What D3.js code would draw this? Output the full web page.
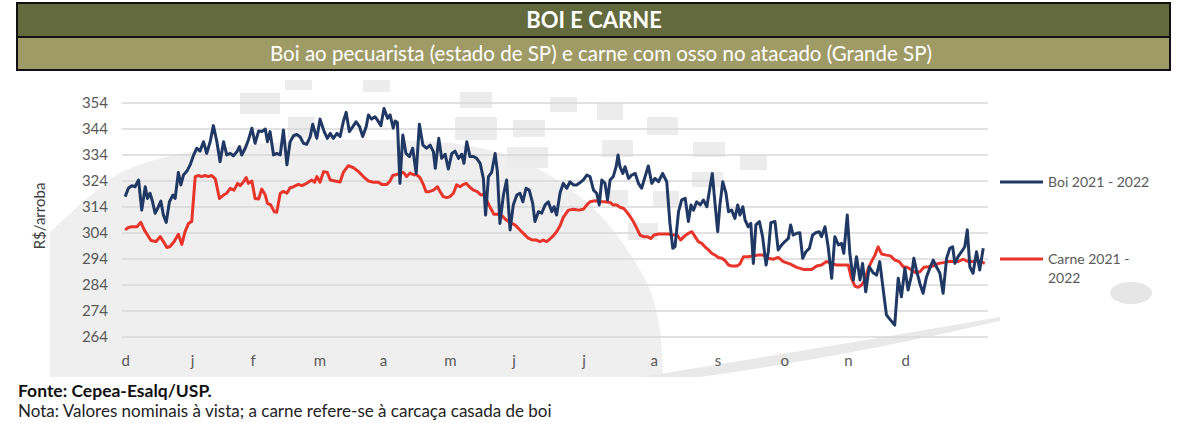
<!DOCTYPE html>
<html lang="pt-BR">
<head>
  <meta charset="UTF-8">
  <title>Boi e Carne</title>
  <script src="https://d3js.org/d3.v7.min.js" charset="utf-8"></script>
  <style>
    body { margin: 0; background: #fff; }
    svg { display: block; font-family: Lato, "Open Sans", sans-serif; }
  </style>
</head>
<body>
  <svg width="1200" height="423"></svg>
  <script>
    // meses (eixo x em dias úteis a partir de dez/2021)
    const monthLabels = ["d", "j", "f", "m", "a", "m", "j", "j", "a", "s", "o", "n", "d"]
    const monthIndex = [0, 21, 40, 61, 81, 102, 122, 144, 166, 186, 207, 227, 245]
    const yTicks = [264, 274, 284, 294, 304, 314, 324, 334, 344, 354]

    // [dia, R$/arroba]
    const boi = [[0,318.0],[1.0,321.2],[2.1,322.2],[3.1,321.8],[4.2,324.4],[5.2,312.8],[6.3,321.8],[7.0,317.3],[7.8,319.3],[8.6,316.0],[9.4,311.6],[10.2,313.5],[11.2,316.3],[12.0,310.9],[12.9,308.1],[13.9,316.0],[15.0,318.6],[15.7,317.3],[16.7,327.3],[17.5,322.5],[18.3,326.3],[19.4,327.8],[20.4,330.2],[21.5,334.0],[22.5,336.6],[23.5,335.5],[24.6,339.1],[25.6,334.6],[26.7,339.1],[27.7,345.3],[28.8,339.1],[29.8,331.4],[30.9,339.1],[31.9,334.0],[33.0,334.6],[34.0,333.7],[35.1,335.3],[35.9,337.2],[36.6,334.0],[37.7,336.6],[38.7,339.8],[39.8,344.3],[40.8,338.5],[41.9,343.2],[42.9,343.0],[44.0,344.0],[44.7,339.1],[45.5,343.0],[46.6,334.0],[47.6,334.6],[48.7,334.0],[49.7,343.6],[50.8,330.2],[51.8,339.1],[52.9,341.4],[53.9,341.9],[54.9,341.0],[56.0,338.5],[57.0,338.1],[58.1,341.0],[58.9,345.8],[60.2,340.4],[61.2,347.8],[62.5,343.0],[63.5,340.4],[64.4,342.3],[65.4,340.4],[66.5,342.3],
      [67.5,341.1],[68.5,346.8],[69.4,350.4],[70.4,343.0],[71.5,344.9],[72.5,346.8],[73.6,344.9],[74.6,341.1],[75.7,344.9],[76.4,349.4],[77.4,347.8],[78.5,348.7],[79.2,347.5],[80.3,345.3],[81.3,351.9],[82.4,348.1],[83.2,349.4],[84.2,344.3],[84.8,347.1],[85.5,346.5],[86.3,323.1],[87.2,341.7],[88.2,334.6],[89.3,333.4],[90.3,336.6],[91.4,326.9],[92.4,345.8],[93.5,337.8],[94.7,336.6],[95.8,337.8],[96.8,335.3],[97.4,328.9],[98.5,340.4],[99.4,332.7],[100.5,334.3],[101.5,328.6],[102.6,334.6],[103.6,335.5],[104.7,332.7],[105.7,334.3],[106.4,330.8],[107.3,339.1],[108.3,333.4],[109.4,333.4],[110.4,332.7],[111.5,330.8],[112.5,325.0],[113.2,310.9],[114.1,325.7],[115.1,327.3],[116.2,334.6],[116.9,327.6],[117.7,307.7],[118.8,318.6],[119.8,324.4],[120.9,305.2],[121.9,314.8],[123.0,318.6],[124.0,319.3],[124.9,316.0],[125.9,321.2],[126.9,320.5],[128.0,315.4],[128.7,308.4],[129.8,312.2],[130.8,311.6],[131.9,314.8],[132.9,316.0],[134.0,312.2],[134.7,314.1],[135.5,310.9],
      [136.6,319.5],[137.6,323.1],[138.7,321.2],[139.7,323.7],[140.8,322.5],[141.8,322.5],[142.9,323.4],[143.9,324.4],[145.0,326.3],[146.0,325.7],[147.1,320.5],[148.1,319.3],[148.9,314.8],[149.7,324.4],[150.7,323.1],[151.5,316.7],[152.3,324.4],[153.3,325.7],[154.2,329.5],[154.8,334.0],[155.4,329.5],[156.3,326.9],[157.0,329.5],[158.1,325.0],[159.1,326.3],[160.2,326.9],[161.2,323.1],[162.2,321.2],[163.3,325.7],[164.3,329.8],[165.4,323.1],[166.4,325.0],[167.5,323.7],[168.8,326.9],[170.1,323.7],[171.1,307.7],[172.0,298.1],[172.7,298.8],[173.8,312.2],[174.8,316.7],[175.9,317.3],[176.9,308.4],[177.7,314.8],[178.5,312.8],[179.5,316.0],[180.6,314.8],[181.6,316.7],[182.7,314.1],[183.7,321.8],[184.4,326.9],[185.3,314.8],[186.1,304.5],[186.8,314.8],[187.7,323.7],[188.7,319.3],[189.5,312.2],[190.5,312.8],[191.5,309.6],[192.4,314.8],[193.1,310.9],[194.0,314.1],[194.7,309.0],[195.7,306.4],[196.5,307.7],[197.3,292.3],[198.1,307.1],[199.2,308.4],[200.2,302.6],[201.3,291.7],[202.0,296.8],
      [202.8,308.0],[204.1,308.4],[205.1,297.5],[206.2,299.4],[207.2,300.7],[208.3,301.9],[209.0,307.1],[209.8,303.2],[210.9,303.9],[211.9,304.1],[212.8,294.3],[213.8,296.8],[214.9,298.1],[215.9,303.2],[216.9,304.1],[218.0,304.5],[218.7,302.6],[219.8,306.4],[220.8,298.7],[221.9,286.6],[222.9,302.6],[224.0,299.4],[225.0,300.0],[225.7,296.2],[226.8,310.9],[227.6,296.2],[228.7,285.9],[229.7,294.9],[230.8,285.9],[231.6,292.3],[232.6,281.4],[233.7,291.0],[234.9,288.7],[236.0,287.8],[237.0,293.0],[238.1,282.1],[239.1,272.5],[240.4,270.5],[241.7,268.6],[242.8,286.6],[243.8,279.5],[244.9,290.4],[245.9,282.1],[247.0,287.8],[247.7,294.3],[248.5,289.8],[249.6,284.6],[250.6,280.8],[251.7,287.2],[252.7,290.4],[253.8,293.6],[254.8,291.0],[255.9,288.5],[256.9,280.8],[258.0,294.3],[259.0,298.1],[259.9,298.7],[260.6,292.3],[261.6,294.9],[262.7,296.8],[263.7,298.7],[264.5,305.2],[265.3,291.0],[266.3,288.5],[267.4,296.8],[268.4,289.8],[269.5,298.1]]

    const carne = [[0,305.2],[1.0,306.1],[2.1,306.4],[3.7,306.4],[4.9,308.1],[6.0,305.2],[7.0,303.2],[8.1,301.1],[9.7,300.7],[11.0,302.6],[12.0,300.7],[13.1,298.4],[14.1,298.8],[15.4,300.7],[16.7,303.5],[17.8,299.6],[18.8,304.5],[19.9,307.7],[20.9,308.4],[22.0,325.7],[23.0,326.1],[24.0,325.7],[25.1,326.1],[26.1,325.7],[27.2,326.1],[28.3,324.8],[29.6,317.3],[30.9,318.6],[31.9,319.3],[33.0,321.2],[34.2,320.5],[35.3,323.1],[36.1,322.2],[37.2,323.7],[38.0,325.3],[38.7,323.1],[39.8,324.0],[40.8,317.3],[41.9,317.1],[42.9,320.9],[44.0,318.6],[44.7,315.4],[45.7,314.8],[46.8,312.2],[47.6,312.0],[48.7,319.3],[49.7,320.0],[50.8,319.3],[51.8,321.4],[52.9,321.8],[54.4,322.7],[55.5,322.2],[57.0,323.1],[58.6,324.4],[59.5,323.5],[60.2,325.7],[61.2,323.5],[62.3,327.6],[63.5,327.3],[64.4,324.4],[65.9,324.0],[67.5,323.6],
      [68.5,327.3],[70.1,329.9],[71.7,329.1],[73.3,327.6],[74.8,325.7],[76.4,324.0],[78.0,323.5],[79.5,323.5],[80.6,322.7],[82.2,322.7],[83.2,324.0],[84.0,326.1],[85.1,326.4],[86.3,327.1],[87.4,327.3],[88.4,325.7],[89.5,327.1],[90.5,326.4],[91.6,326.4],[92.6,325.3],[93.7,322.5],[94.5,319.9],[95.5,319.9],[96.8,320.5],[98.1,321.8],[98.9,319.9],[99.9,318.0],[101.0,317.6],[102.0,318.0],[103.1,319.3],[104.1,322.5],[105.2,321.8],[106.0,322.5],[107.1,323.1],[108.1,321.8],[109.4,320.5],[110.6,319.9],[111.7,318.6],[112.7,318.8],[113.8,316.0],[114.8,313.5],[115.8,311.2],[116.9,311.2],[118.3,310.7],[119.3,309.4],[120.4,308.4],[121.4,307.7],[122.4,307.1],[123.5,305.8],[124.5,304.5],[125.6,303.2],[126.6,302.0],[128.0,301.3],[129.2,301.3],[130.3,300.7],[131.3,301.3],[132.4,300.7],[133.4,301.7],[134.5,303.0],[135.5,304.5],
      [136.6,306.8],[137.6,310.0],[139.2,312.8],[140.8,313.1],[142.4,312.8],[143.9,313.1],[145.0,314.8],[146.0,316.0],[147.6,316.4],[149.2,316.0],[150.7,316.0],[152.3,315.7],[153.3,314.8],[154.4,314.8],[155.4,313.9],[156.5,313.5],[157.5,312.2],[158.6,310.3],[159.6,308.4],[160.7,305.8],[161.7,303.2],[162.8,302.6],[164.0,302.6],[165.1,301.9],[166.1,303.2],[167.5,303.6],[169.0,303.6],[170.6,303.6],[172.2,303.2],[173.4,303.2],[174.5,301.3],[175.5,302.6],[176.9,303.9],[178.0,304.5],[179.0,302.6],[180.0,300.7],[181.1,300.0],[182.1,298.7],[183.2,297.5],[184.2,296.2],[185.3,295.5],[186.3,294.6],[187.4,294.3],[188.4,293.4],[189.5,291.7],[190.5,291.3],[192.1,291.3],[193.1,292.1],[194.2,294.9],[195.7,294.9],[197.3,295.2],[198.9,295.5],[200.4,295.5],[202.0,294.3],
      [203.5,293.9],[205.1,294.6],[206.7,293.0],[208.8,292.1],[210.9,290.8],[213.0,290.0],[215.6,290.0],[217.2,291.3],[218.7,291.7],[220.3,293.0],[221.9,292.3],[223.4,291.7],[225.5,291.7],[227.1,291.7],[228.1,286.6],[229.2,283.6],[230.2,283.1],[231.3,284.0],[232.3,285.9],[233.4,290.4],[234.4,293.0],[235.5,295.5],[236.5,298.7],[237.6,295.9],[239.1,295.5],[240.4,295.2],[241.7,293.6],[243.1,293.0],[244.4,291.0],[245.6,290.8],[247.0,289.8],[248.3,288.7],[249.6,289.1],[250.9,290.8],[252.2,291.0],[253.8,291.3],[255.4,292.3],[256.9,292.6],[258.5,293.0],[260.1,293.0],[261.6,293.0],[263.2,293.9],[264.8,293.0],[266.3,293.0],[267.9,293.4],[270.0,292.3]]

    const seriesNames = ["Boi 2021 - 2022", "Carne 2021 - 2022"]
    const seriesColors = ["#203864", "#e8352b"]

    const svg = d3.select("svg")
    const width = +svg.attr("width")
    const height = +svg.attr("height")

    // marca d'água (fundo cinza)
    const bg = svg.append("g")
    const arc = [[50,232],[90,196],[120,173],[170,156],[220,148],[300,141],[380,140],[450,143],[510,156],[560,182],[600,215],[630,254],[650,290],[660,330],[663,377]]
    bg.append("path")
      .attr("d", "M50,377L" + d3.line().curve(d3.curveCatmullRom)(arc).slice(1) + "Z")
      .attr("fill", "#efefef")
    bg.append("path")
      .attr("d", "M640,377 Q840,345 1000,317 L1000,321 Q850,356 700,377 Z")
      .attr("fill", "#e9e9e9")
    bg.append("ellipse")
      .attr("cx", 1131).attr("cy", 293).attr("rx", 21).attr("ry", 11)
      .attr("fill", "#e6e6e6")
    const blocks = [[240,93,40,21],[288,117,27,21],[285,80,27,10],[363,80,27,12],[460,92,32,16],[455,117,42,23],[513,120,32,17],[507,147,41,21],[550,97,27,15],[597,103,26,17],[602,140,31,17],[647,117,31,18],[610,190,18,15],[628,223,30,17],[653,191,26,16],[693,142,32,15],[740,155,27,15],[692,172,31,15]]
    bg.selectAll("rect.blk")
      .data(blocks)
      .enter()
      .append("rect")
      .attr("x", d => d[0]).attr("y", d => d[1])
      .attr("width", d => d[2]).attr("height", d => d[3])
      .attr("fill", "#ececec")

    // cabeçalho
    svg.append("rect")
      .attr("x", 17).attr("y", 3).attr("width", 1153).attr("height", 34)
      .attr("fill", "#636a3d").attr("stroke", "#111").attr("stroke-width", 2)
    svg.append("rect")
      .attr("x", 17).attr("y", 37).attr("width", 1153).attr("height", 33)
      .attr("fill", "#9f9b66").attr("stroke", "#111").attr("stroke-width", 2)
    svg.append("text")
      .attr("x", 594).attr("y", 28)
      .attr("text-anchor", "middle")
      .attr("fill", "#fff")
      .attr("font-size", 22).attr("font-weight", "bold")
      .text("BOI E CARNE")
    svg.append("text")
      .attr("x", 601).attr("y", 61)
      .attr("text-anchor", "middle")
      .attr("fill", "#fff")
      .attr("font-size", 20.5)
      .text("Boi ao pecuarista (estado de SP) e carne com osso no atacado (Grande SP)")

    // escalas
    const x = d3.scaleLinear().domain([-1, 271]).range([122, 988])
    const y = d3.scaleLinear().domain([264, 354]).range([337, 103])

    // grade horizontal
    svg.append("g")
      .selectAll("line")
      .data(yTicks)
      .enter()
      .append("line")
      .attr("x1", x(-1)).attr("x2", x(271))
      .attr("y1", d => y(d)).attr("y2", d => y(d))
      .attr("stroke", "#d9d9d9").attr("stroke-width", 1.5)

    const yAxis = svg.append("g")
      .attr("transform", "translate(" + x(-1) + ",0)")
      .call(d3.axisLeft(y).tickValues(yTicks).tickSize(0).tickPadding(14))
    yAxis.select(".domain").remove()
    yAxis.selectAll("text")
      .attr("fill", "#595959").attr("font-size", 15)
      .attr("font-family", "Lato, sans-serif")

    const xAxis = svg.append("g")
      .attr("transform", "translate(0,337)")
      .call(d3.axisBottom(x).tickValues(monthIndex).tickFormat((d, i) => monthLabels[i]).tickSize(0).tickPadding(18))
    xAxis.select(".domain").remove()
    xAxis.selectAll("text")
      .attr("fill", "#595959").attr("font-size", 15)
      .attr("font-family", "Lato, sans-serif")

    svg.append("text")
      .attr("transform", "translate(45,216) rotate(-90)")
      .attr("text-anchor", "middle")
      .attr("fill", "#404040")
      .attr("font-size", 15)
      .text("R$/arroba")

    // linhas
    const line = d3.line().x(d => x(d[0])).y(d => y(d[1]))
    svg.append("path")
      .datum(carne)
      .attr("d", line)
      .attr("fill", "none")
      .attr("stroke", seriesColors[1])
      .attr("stroke-width", 3)
      .attr("stroke-linejoin", "round")
    svg.append("path")
      .datum(boi)
      .attr("d", line)
      .attr("fill", "none")
      .attr("stroke", seriesColors[0])
      .attr("stroke-width", 3)
      .attr("stroke-linejoin", "round")

    // legenda
    const legendY = [182, 259]
    const legend = svg.append("g")
    legend.selectAll("line")
      .data(seriesNames)
      .enter()
      .append("line")
      .attr("x1", 1000).attr("x2", 1043)
      .attr("y1", (d, i) => legendY[i]).attr("y2", (d, i) => legendY[i])
      .attr("stroke", (d, i) => seriesColors[i]).attr("stroke-width", 3)
    legend.append("text")
      .attr("x", 1048).attr("y", legendY[0] + 5)
      .attr("fill", "#595959").attr("font-size", 14)
      .text(seriesNames[0])
    const lt = legend.append("text")
      .attr("x", 1048).attr("y", legendY[1] + 5)
      .attr("fill", "#595959").attr("font-size", 14)
    lt.append("tspan").text("Carne 2021 -")
    lt.append("tspan").attr("x", 1048).attr("dy", 19).text("2022")

    // rodapé
    svg.append("text")
      .attr("x", 18).attr("y", 397)
      .attr("fill", "#111").attr("font-size", 17.5).attr("font-weight", "bold")
      .text("Fonte: Cepea-Esalq/USP.")
    svg.append("text")
      .attr("x", 18).attr("y", 417)
      .attr("fill", "#222").attr("font-size", 17)
      .text("Nota: Valores nominais à vista; a carne refere-se à carcaça casada de boi")
  </script>
</body>
</html>
